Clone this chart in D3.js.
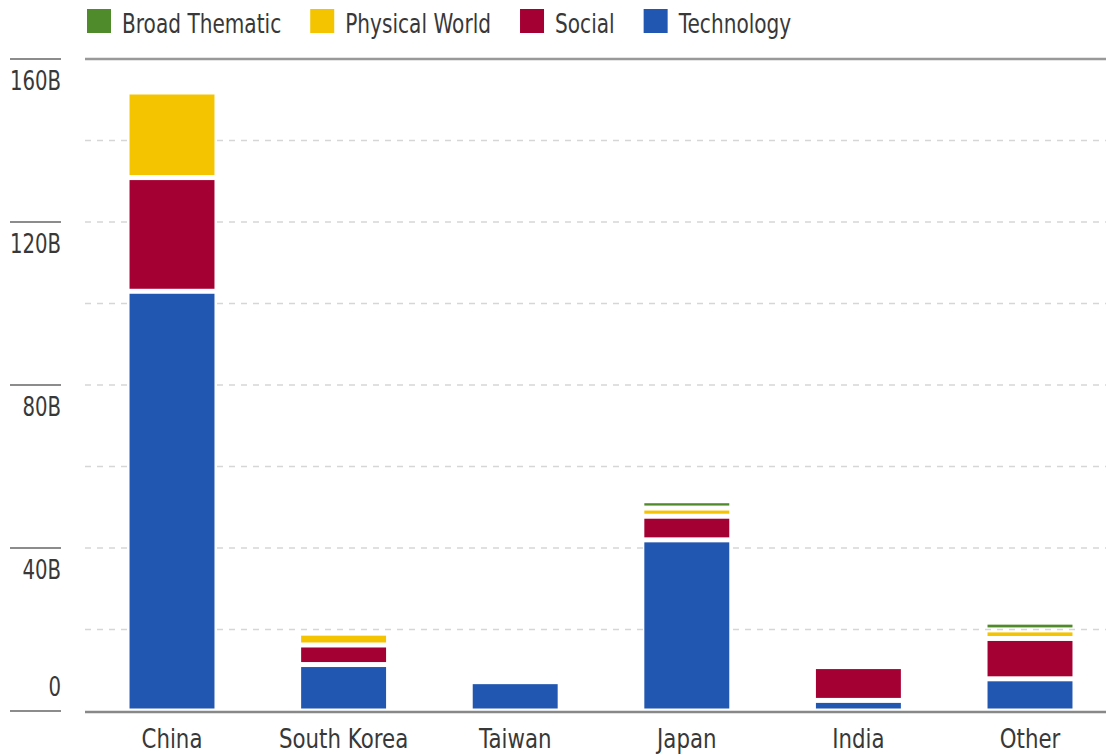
<!DOCTYPE html>
<html><head><meta charset="utf-8">
<script src="https://cdn.jsdelivr.net/npm/d3@7"></script>
<style>
html,body{margin:0;padding:0;background:#fff;}
text{font-family:"DejaVu Sans",sans-serif;fill:#383838;}
</style></head>
<body>
<svg id="chart" width="1106" height="755"></svg>
<script>
const categories = ["China","South Korea","Taiwan","Japan","India","Other"];
const seriesNames = ["Technology","Social","Physical World","Broad Thematic"];
const technology   = [103.0, 11.4, 7.2, 42.0, 2.6, 7.9];
const social       = [27.9, 4.8, 0, 5.8, 8.3, 9.9];
const physical     = [21.0, 2.9, 0, 2.0, 0, 2.1];
const broad        = [0, 0, 0, 1.8, 0, 1.9];
const colors = {"Technology":"#2157b0","Social":"#a50034","Physical World":"#f5c400","Broad Thematic":"#4f8a2b"};
const legendOrder = ["Broad Thematic","Physical World","Social","Technology"];
const yTicks = [0,40,80,120,160];
const gridTicks = [20,40,60,80,100,120,140];
const tickLabels = ["0","40B","80B","120B","160B"];

const rows = categories.map((c,i)=>({cat:c,"Technology":technology[i],"Social":social[i],"Physical World":physical[i],"Broad Thematic":broad[i]}));
const stack = d3.stack().keys(seriesNames)(rows);

const svg = d3.select("#chart");
const x = d3.scaleBand().domain(categories).range([86.2,1115.8]).paddingInner(0.505).paddingOuter(0.2525);
const y = d3.scaleLinear().domain([0,160]).range([711,59]);

function ctext(parent, tx, ty, s, size, anchor, str){
  const g = parent.append("g").attr("transform",`translate(${tx},${ty}) scale(${s},1)`);
  g.append("text").attr("x",0).attr("y",0).attr("text-anchor",anchor)
    .attr("dominant-baseline","middle").attr("font-size",size).text(str);
  return g.node().getBBox().width*s;
}

svg.append("g").selectAll("line").data(gridTicks).join("line")
  .attr("x1",85).attr("x2",1106).attr("y1",d=>y(d)).attr("y2",d=>y(d))
  .attr("stroke","#d6d6d6").attr("stroke-width",1.3).attr("stroke-dasharray","6,6");

svg.append("line").attr("x1",85).attr("x2",1106).attr("y1",y(160)).attr("y2",y(160))
  .attr("stroke","#999").attr("stroke-width",2.5);

svg.append("g").selectAll("line").data(yTicks).join("line")
  .attr("x1",10).attr("x2",61).attr("y1",d=>y(d)).attr("y2",d=>y(d))
  .attr("stroke","#666").attr("stroke-width",1.6);

const yl = svg.append("g");
yTicks.forEach((d,i)=>{
  ctext(yl, 61, d===0 ? y(d)-22 : y(d)+24, 0.73, 27, "end", tickLabels[i]);
});

const gap = 5;
svg.append("g").selectAll("g").data(stack).join("g")
  .attr("fill",d=>colors[d.key])
  .selectAll("rect").data(d=>d.filter(p=>p[1]-p[0]>0)).join("rect")
  .attr("x",d=>x(d.data.cat)).attr("width",x.bandwidth())
  .attr("y",d=>y(d[1])+gap/2)
  .attr("height",d=>Math.max(2,(y(d[0])-y(d[1]))-gap));

svg.append("line").attr("x1",85).attr("x2",1106).attr("y1",y(0)+1).attr("y2",y(0)+1)
  .attr("stroke","#888").attr("stroke-width",2.5);

const xl = svg.append("g");
categories.forEach(c=>{
  ctext(xl, x(c)+x.bandwidth()/2, 740, 0.79, 27, "middle", c);
});

const lg = svg.append("g");
let lx = 87;
legendOrder.forEach(k=>{
  lg.append("rect").attr("x",lx).attr("y",9).attr("width",24).attr("height",24).attr("fill",colors[k]);
  const w = ctext(lg, lx+35, 26, 0.745, 27, "start", k);
  lx = lx + 35 + w + 29;
});
</script>
</body></html>
